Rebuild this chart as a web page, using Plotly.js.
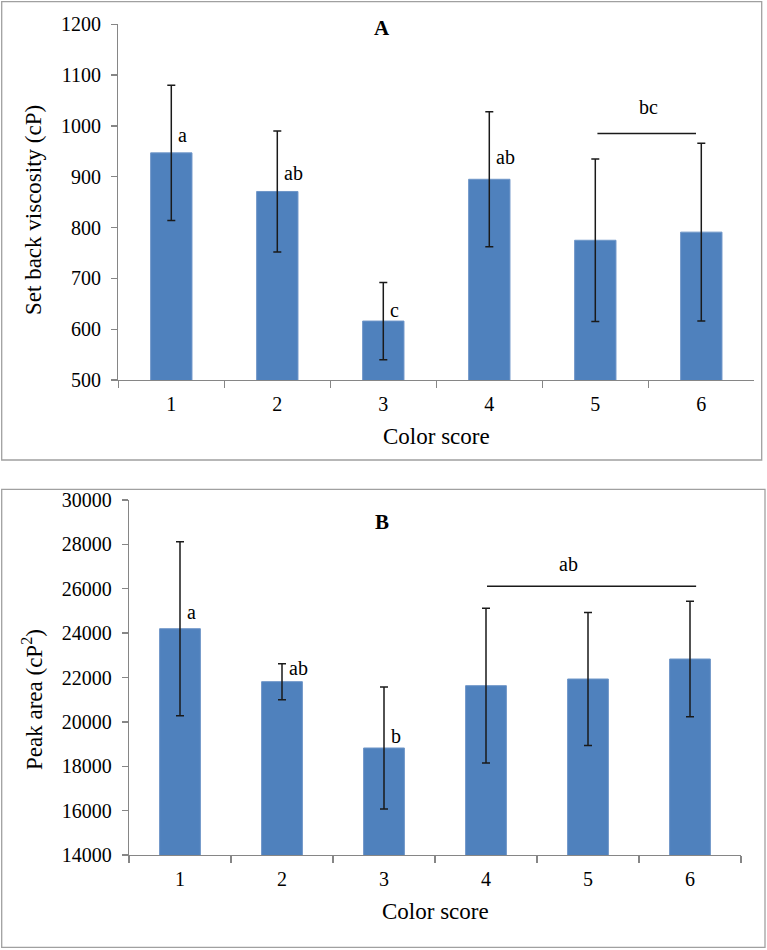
<!DOCTYPE html>
<html>
<head>
<meta charset="utf-8">
<script src="https://cdn.plot.ly/plotly-3.0.1.min.js"></script>
<style>html,body{margin:0;padding:0;background:#fff;}#chart{width:767px;height:950px;}</style>
</head>
<body>
<div id="chart"></div>
<script>
// ---- data ----
const categories = ['1', '2', '3', '4', '5', '6'];

// Panel A: Set back viscosity (cP)
const setbackMean = [947, 871, 616, 895, 775, 791];
const setbackErr  = [133, 119, 76, 133, 160, 175];
const setbackLetters = ['a', 'ab', 'c', 'ab'];
const setbackLetterIdx = [0, 1, 2, 3];
const setbackLetterY = [982, 907, 637, 939];
const setbackGroupLetter = 'bc';
const setbackGroupY = 985;
const setbackGroupTextY = 1038;

// Panel B: Peak area (cP^2)
const peakMean = [24200, 21812, 18823, 21632, 21932, 22834];
const peakErr  = [3920, 812, 2750, 3490, 2997, 2607];
const peakLetters = ['a', 'ab', 'b'];
const peakLetterIdx = [0, 1, 2];
const peakLetterY = [24938, 22443, 19363];
const peakGroupLetter = 'ab';
const peakGroupY = 26110;
const peakGroupTextY = 27115;

const yTicksA = [500, 600, 700, 800, 900, 1000, 1100, 1200];
const yTicksB = [14000, 16000, 18000, 20000, 22000, 24000, 26000, 28000, 30000];

// ---- styling ----
const W = 767, H = 950;
const px = v => v / W;
const py = v => (H - v) / H;
const serif = '"Liberation Serif", "Times New Roman", serif';
const barColor = '#4F81BD';
const axisGrey = '#868686';

const errStyle = (arr) => ({type: 'data', array: arr, visible: true, color: '#1a1a1a', thickness: 1.5, width: 4});

const traces = [
  {type: 'bar', x: categories, y: setbackMean, xaxis: 'x', yaxis: 'y', width: 0.39,
   marker: {color: barColor, line: {color: '#6f96c8', width: 1}}, error_y: errStyle(setbackErr),
   hoverinfo: 'none', showlegend: false},
  {type: 'bar', x: categories, y: peakMean, xaxis: 'x2', yaxis: 'y2', width: 0.4,
   marker: {color: barColor, line: {color: '#6f96c8', width: 1}}, error_y: errStyle(peakErr),
   hoverinfo: 'none', showlegend: false}
];

const xCommon = {
  type: 'category', range: [-0.5, 5.5], tickson: 'boundaries', ticks: 'outside', ticklen: 7,
  tickcolor: axisGrey, tickwidth: 1.3, showline: true, linecolor: axisGrey, linewidth: 1.3,
  showgrid: false, zeroline: false, fixedrange: true, ticklabelstandoff: 6,
  tickfont: {family: serif, size: 20, color: '#000'}
};
const yCommon = {
  ticks: 'outside', ticklen: 6, tickcolor: axisGrey, tickwidth: 1.3, showline: true,
  linecolor: axisGrey, linewidth: 1.3, showgrid: false, zeroline: false, fixedrange: true,
  ticklabelstandoff: 6, tickformat: 'd', tickfont: {family: serif, size: 20, color: '#000'}
};

const layout = {
  width: W, height: H, margin: {l: 0, r: 0, t: 0, b: 0},
  paper_bgcolor: '#fff', plot_bgcolor: '#fff', showlegend: false,
  font: {family: serif, color: '#000'},
  xaxis: Object.assign({}, xCommon, {domain: [px(118.3), px(754.3)], anchor: 'y'}),
  yaxis: Object.assign({}, yCommon, {domain: [py(380), py(24.3)], range: [500, 1200], tickvals: yTicksA, anchor: 'x'}),
  xaxis2: Object.assign({}, xCommon, {domain: [px(129), px(741)], anchor: 'y2'}),
  yaxis2: Object.assign({}, yCommon, {domain: [py(855), py(500)], range: [14000, 30000], tickvals: yTicksB, anchor: 'x2'}),
  shapes: [
    {type: 'rect', xref: 'paper', yref: 'paper', x0: px(1.7), x1: px(761.7), y0: py(460), y1: py(1.7),
     line: {color: '#a0a0a0', width: 1.3}},
    {type: 'rect', xref: 'paper', yref: 'paper', x0: px(1.7), x1: px(765), y0: py(947.3), y1: py(489.3),
     line: {color: '#a0a0a0', width: 1.3}},
    {type: 'line', xref: 'x', yref: 'y', x0: 4.02, x1: 4.95, y0: setbackGroupY, y1: setbackGroupY,
     line: {color: '#1a1a1a', width: 1.5}},
    {type: 'line', xref: 'x2', yref: 'y2', x0: 3.01, x1: 5.06, y0: peakGroupY, y1: peakGroupY,
     line: {color: '#1a1a1a', width: 1.5}}
  ],
  annotations: []
};

const ann = layout.annotations;
const letterFont = {family: serif, size: 20, color: '#000'};
setbackLetters.forEach((t, i) => ann.push({xref: 'x', yref: 'y', x: setbackLetterIdx[i], y: setbackLetterY[i],
  text: t, showarrow: false, xanchor: 'left', yanchor: 'middle', xshift: 5, font: letterFont}));
peakLetters.forEach((t, i) => ann.push({xref: 'x2', yref: 'y2', x: peakLetterIdx[i], y: peakLetterY[i],
  text: t, showarrow: false, xanchor: 'left', yanchor: 'middle', xshift: 5, font: letterFont}));
ann.push({xref: 'x', yref: 'y', x: 4.5, y: setbackGroupTextY, text: setbackGroupLetter, showarrow: false,
  xanchor: 'center', yanchor: 'middle', font: letterFont});
ann.push({xref: 'x2', yref: 'y2', x: 3.81, y: peakGroupTextY, text: peakGroupLetter, showarrow: false,
  xanchor: 'center', yanchor: 'middle', font: letterFont});

// panel titles
ann.push({xref: 'paper', yref: 'paper', x: px(381.7), y: py(28.3), text: '<b>A</b>', showarrow: false,
  xanchor: 'center', yanchor: 'middle', font: {family: serif, size: 21, color: '#000'}});
ann.push({xref: 'paper', yref: 'paper', x: px(381.7), y: py(521.7), text: '<b>B</b>', showarrow: false,
  xanchor: 'center', yanchor: 'middle', font: {family: serif, size: 21, color: '#000'}});

// axis titles
const titleFont = {family: serif, size: 23, color: '#000'};
ann.push({xref: 'paper', yref: 'paper', x: px(436.3), y: py(436.7), text: 'Color score', showarrow: false,
  xanchor: 'center', yanchor: 'middle', font: titleFont});
ann.push({xref: 'paper', yref: 'paper', x: px(435), y: py(911.7), text: 'Color score', showarrow: false,
  xanchor: 'center', yanchor: 'middle', font: titleFont});
ann.push({xref: 'paper', yref: 'paper', x: px(33), y: py(210), text: 'Set back viscosity (cP)', showarrow: false,
  textangle: -90, xanchor: 'center', yanchor: 'middle', font: titleFont});
ann.push({xref: 'paper', yref: 'paper', x: px(32), y: py(700), text: 'Peak area (cP<sup>2</sup>)', showarrow: false,
  textangle: -90, xanchor: 'center', yanchor: 'middle', font: titleFont});

Plotly.newPlot('chart', traces, layout, {staticPlot: true, displayModeBar: false});
</script>
</body>
</html>
